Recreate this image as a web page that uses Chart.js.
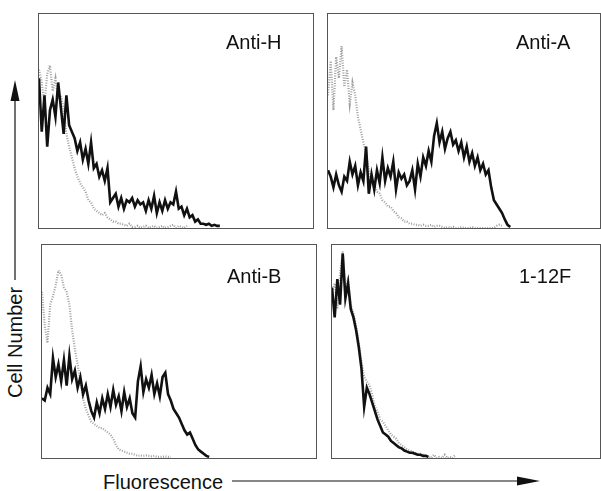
<!DOCTYPE html>
<html>
<head>
<meta charset="utf-8">
<script src="https://cdn.jsdelivr.net/npm/chart.js@4.4.1/dist/chart.umd.min.js"></script>
<style>
  html, body { margin: 0; padding: 0; background: #fff; }
  body { width: 601px; height: 491px; position: relative; overflow: hidden;
         font-family: "Liberation Sans", Arial, Helvetica, sans-serif; color: #111; }
  .panel { position: absolute; box-sizing: border-box; border: 1px solid #555; }
  .panel canvas { display: block; }
  .tag { position: absolute; font-size: 20px; line-height: 20px; white-space: nowrap; }
  #xlabel { position: absolute; left: 103px; top: 472px; font-size: 20px; line-height: 20px; }
  #ylabel { position: absolute; left: 5px; top: 398px; font-size: 20px; line-height: 20px;
            transform-origin: 0 0; transform: rotate(-90deg); white-space: nowrap; }
  svg { position: absolute; left: 0; top: 0; }
</style>
</head>
<body>

<div class="panel" style="left:38px;top:13px;width:276px;height:216px;"><canvas id="antiH"></canvas></div>
<div class="panel" style="left:327px;top:13px;width:274px;height:216px;"><canvas id="antiA"></canvas></div>
<div class="panel" style="left:41px;top:244px;width:276px;height:215px;"><canvas id="antiB"></canvas></div>
<div class="panel" style="left:331px;top:244px;width:270px;height:215px;"><canvas id="f112"></canvas></div>

<div class="tag" style="left:226px;top:32px;">Anti-H</div>
<div class="tag" style="left:516px;top:32px;">Anti-A</div>
<div class="tag" style="left:227px;top:266px;">Anti-B</div>
<div class="tag" style="left:519px;top:266px;">1-12F</div>

<div id="xlabel">Fluorescence</div>
<div id="ylabel">Cell Number</div>

<svg width="601" height="491">
  <line x1="232" y1="481" x2="520" y2="481" stroke="#111" stroke-width="1.2"/>
  <polygon points="517,476.5 540,481 517,485.5" fill="#111"/>
  <line x1="15" y1="280" x2="15" y2="98" stroke="#111" stroke-width="1.2"/>
  <polygon points="10.5,101 15,80 19.5,101" fill="#111"/>
</svg>

<script>
// histogram bins, percent of panel height; 100 bins span each panel's width
const channels = 100;

const antiHStained = [70, 45, 62, 38, 55, 60, 52, 68, 56, 44, 62, 48, 45, 42, 36, 40, 32, 37, 30, 40,
  28, 30, 24, 27, 22, 28, 12, 14, 16, 10, 14, 9, 13, 12, 14, 10, 13, 11, 12, 8,
  13, 9, 15, 7, 12, 8, 13, 9, 12, 11, 17, 9, 10, 6, 9, 5, 6, 3, 4, 2,
  2, 1.5, 2, 1, 1.5, 1, 1];
const antiHControl = [74, 68, 58, 72, 76, 64, 70, 60, 62, 55, 44, 38, 33, 28, 24, 21, 19, 17, 13, 12,
  9, 8, 7, 6, 7, 5, 4, 3, 3, 2, 2, 1.5, 1, 2, 0.5, 0.5, 1, 0, 0.5, 1,
  0, 0.5, 1, 0, 0.5, 1, 0, 0.5, 1, 1.5, 0, 1, 0.5, 0, 1];

const antiAStained = [27, 24, 19, 25, 20, 17, 24, 22, 31, 25, 29, 20, 26, 22, 38, 16, 25, 18, 27, 21,
  33, 22, 28, 24, 31, 18, 26, 23, 25, 20, 22, 27, 18, 30, 24, 33, 29, 36, 31, 43,
  49, 40, 45, 37, 42, 45, 39, 41, 36, 40, 33, 38, 31, 35, 29, 33, 27, 30, 25, 27,
  19, 13, 11, 9, 7, 4, 1.5, 0.5];
const antiAControl = [62, 78, 55, 80, 70, 85, 66, 74, 58, 68, 62, 52, 46, 40, 35, 27, 22, 20, 17, 16,
  13, 12, 10, 10, 8, 7, 5, 4.5, 3, 3, 2, 2, 1.5, 1.5, 1, 1.5, 1, 1, 1.5, 0.5,
  1, 1, 0.5, 0, 0.5, 0, 0.5, 0, 0, 0.5, 0, 0, 0, 0.5, 0, 0, 0, 0, 0, 0,
  0, 0, 1, 1.5, 1];

const antiBStained = [28, 27, 33, 30, 47, 38, 44, 36, 46, 34, 48, 37, 41, 33, 38, 30, 34, 27, 22, 19,
  26, 21, 28, 23, 30, 24, 32, 25, 29, 22, 31, 24, 28, 21, 19, 36, 43, 31, 37, 33,
  39, 30, 35, 29, 38, 40, 30, 27, 23, 21, 19, 16, 13, 11, 12, 9, 6, 4, 3, 2,
  1, 0.5];
const antiBControl = [78, 62, 54, 72, 76, 81, 88, 86, 80, 78, 72, 60, 51, 44, 36, 28, 23, 20, 17, 16,
  15, 14, 14, 13, 12, 11, 9, 6, 4, 3.5, 3, 2.5, 2, 2, 1.5, 1, 1.2, 1, 1.2, 1,
  0.8, 1, 0.5, 0.5, 0.5, 0.8, 0.5, 0.5];

const f112Stained = [80, 66, 84, 72, 96, 75, 82, 70, 66, 60, 52, 42, 24, 33, 30, 26, 22, 18, 15, 12,
  11, 10, 8, 7, 6, 5, 4.5, 3.5, 3, 2.5, 2.5, 2, 1.5, 1.5, 1, 1, 0.5];
const f112Control = [78, 82, 70, 86, 97, 80, 84, 72, 68, 62, 54, 45, 38, 36, 34, 30, 24, 22, 18, 17,
  15, 13, 11, 10, 9, 7, 6, 5, 4, 3.5, 3, 2.5, 2, 2, 1.5, 1, 0.5, 0, 1.5, 0,
  0.5, 0, 1.5, 0, 0.5, 0, 1.5];

function toPoints(values) {
  return values.map((v, i) => ({ x: i, y: v }));
}

function drawPanel(id, stained, control) {
  const ctx = document.getElementById(id).getContext('2d');
  new Chart(ctx, {
    type: 'line',
    data: {
      datasets: [
        {
          label: 'stained',
          data: toPoints(stained),
          borderColor: '#111',
          borderWidth: 2.6,
          borderJoinStyle: 'miter',
          tension: 0,
          pointRadius: 0,
          fill: false
        },
        {
          label: 'control',
          data: toPoints(control),
          borderColor: '#a0a0a0',
          borderWidth: 2.2,
          borderDash: [1, 1.5],
          tension: 0,
          pointRadius: 0,
          fill: false
        }
      ]
    },
    options: {
      responsive: true,
      maintainAspectRatio: false,
      animation: false,
      layout: { padding: 0 },
      plugins: {
        legend: { display: false },
        tooltip: { enabled: false }
      },
      scales: {
        x: { type: 'linear', min: 0, max: channels, display: false },
        y: { min: 0, max: 100, display: false }
      }
    }
  });
}

drawPanel('antiH', antiHStained, antiHControl);
drawPanel('antiA', antiAStained, antiAControl);
drawPanel('antiB', antiBStained, antiBControl);
drawPanel('f112', f112Stained, f112Control);
</script>
</body>
</html>
